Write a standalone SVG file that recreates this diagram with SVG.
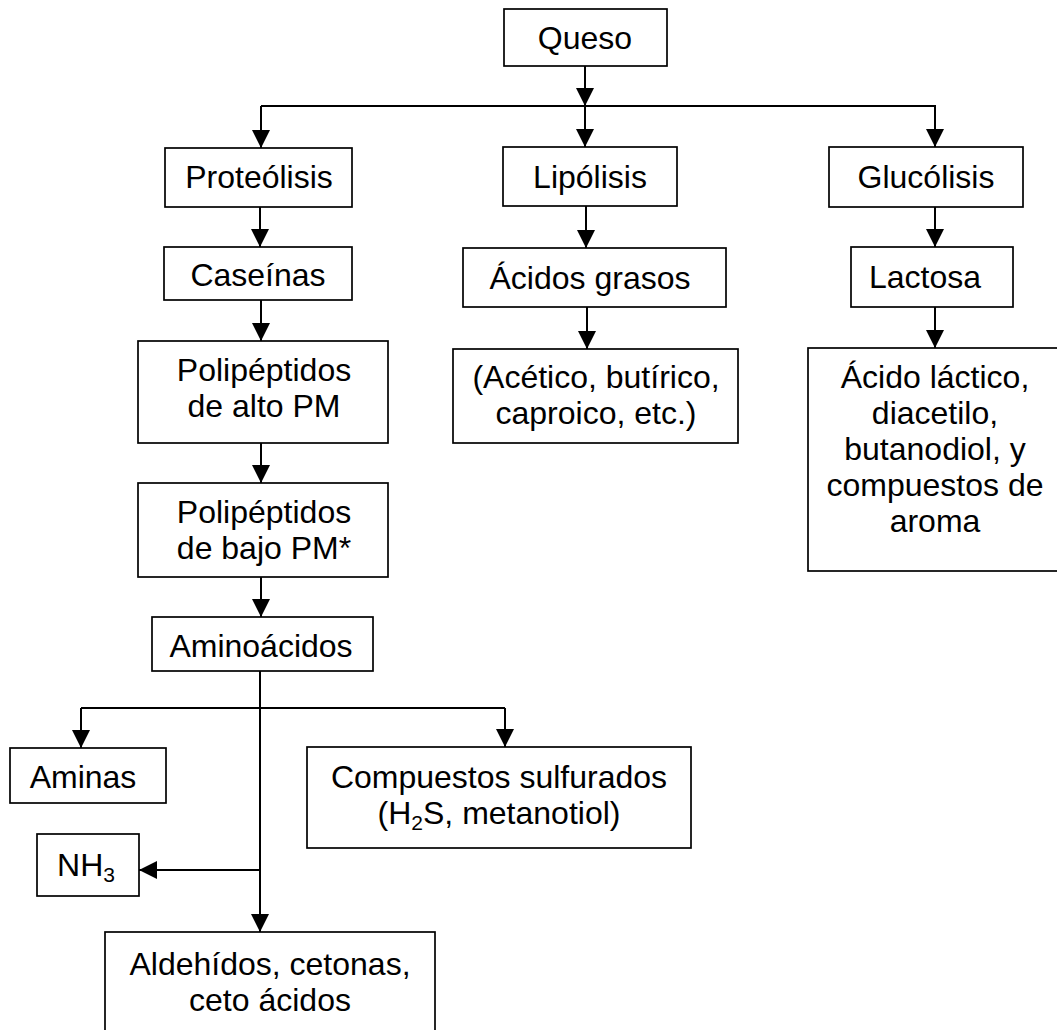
<svg xmlns="http://www.w3.org/2000/svg" width="1057" height="1030" viewBox="0 0 1057 1030">
  <style>
    .box { fill: #ffffff; stroke: #000000; stroke-width: 1.7; }
    .lbl { font-family: "Liberation Sans", Arial, sans-serif; font-size: 32px; fill: #000000; text-anchor: middle; }
    .sub { font-size: 21px; }
    .wire { fill: none; stroke: #000000; stroke-width: 2; }
  </style>
  <defs>
    <marker id="head" markerUnits="userSpaceOnUse" markerWidth="18" markerHeight="18" viewBox="0 0 16 16" refX="16" refY="8" orient="auto">
      <path d="M0,0 L16,8 L0,16 Z" fill="#000000"/>
    </marker>
  </defs>
  <rect width="1057" height="1030" fill="#ffffff"/>

  <!-- connectors -->
  <g id="connectors">
    <line class="wire" x1="585" y1="66" x2="585" y2="106" marker-end="url(#head)"/>
    <line class="wire" x1="261" y1="106" x2="936" y2="106"/>
    <line class="wire" x1="261" y1="106" x2="261" y2="148" marker-end="url(#head)"/>
    <line class="wire" x1="585" y1="106" x2="585" y2="147" marker-end="url(#head)"/>
    <line class="wire" x1="935" y1="106" x2="935" y2="147" marker-end="url(#head)"/>

    <line class="wire" x1="260" y1="207" x2="260" y2="247" marker-end="url(#head)"/>
    <line class="wire" x1="261" y1="300" x2="261" y2="341" marker-end="url(#head)"/>
    <line class="wire" x1="261" y1="443" x2="261" y2="483" marker-end="url(#head)"/>
    <line class="wire" x1="261" y1="577" x2="261" y2="617" marker-end="url(#head)"/>

    <line class="wire" x1="586" y1="206" x2="586" y2="248" marker-end="url(#head)"/>
    <line class="wire" x1="587" y1="307" x2="587" y2="349" marker-end="url(#head)"/>

    <line class="wire" x1="935" y1="207" x2="935" y2="247" marker-end="url(#head)"/>
    <line class="wire" x1="935" y1="307" x2="935" y2="348" marker-end="url(#head)"/>

    <line class="wire" x1="260" y1="671" x2="260" y2="932" marker-end="url(#head)"/>
    <line class="wire" x1="81" y1="708" x2="505" y2="708"/>
    <line class="wire" x1="81" y1="708" x2="81" y2="748" marker-end="url(#head)"/>
    <line class="wire" x1="505" y1="708" x2="505" y2="747" marker-end="url(#head)"/>
    <line class="wire" x1="260" y1="870" x2="139" y2="870" marker-end="url(#head)"/>
  </g>

  <!-- nodes -->
  <g id="queso">
    <rect class="box" x="504" y="9" width="163" height="57"/>
    <text class="lbl" x="585" y="49">Queso</text>
  </g>

  <g id="proteolisis">
    <rect class="box" x="165" y="148" width="187" height="59"/>
    <text class="lbl" x="259" y="188">Proteólisis</text>
  </g>
  <g id="caseinas">
    <rect class="box" x="164" y="247" width="188" height="53"/>
    <text class="lbl" x="258" y="286">Caseínas</text>
  </g>
  <g id="polipeptidos-alto">
    <rect class="box" x="138" y="341" width="250" height="102"/>
    <text class="lbl" x="264" y="381">Polipéptidos</text>
    <text class="lbl" x="264" y="417">de alto PM</text>
  </g>
  <g id="polipeptidos-bajo">
    <rect class="box" x="138" y="483" width="250" height="94"/>
    <text class="lbl" x="264" y="523">Polipéptidos</text>
    <text class="lbl" x="264" y="559">de bajo PM*</text>
  </g>
  <g id="aminoacidos">
    <rect class="box" x="152" y="617" width="221" height="54"/>
    <text class="lbl" x="261" y="657">Aminoácidos</text>
  </g>

  <g id="lipolisis">
    <rect class="box" x="503" y="147" width="174" height="59"/>
    <text class="lbl" x="590" y="188">Lipólisis</text>
  </g>
  <g id="acidos-grasos">
    <rect class="box" x="463" y="248" width="263" height="59"/>
    <text class="lbl" x="590" y="289">Ácidos grasos</text>
  </g>
  <g id="acidos-lista">
    <rect class="box" x="453" y="349" width="285" height="94"/>
    <text class="lbl" x="596" y="388">(Acético, butírico,</text>
    <text class="lbl" x="596" y="424">caproico, etc.)</text>
  </g>

  <g id="glucolisis">
    <rect class="box" x="829" y="147" width="194" height="60"/>
    <text class="lbl" x="926" y="188">Glucólisis</text>
  </g>
  <g id="lactosa">
    <rect class="box" x="851" y="247" width="162" height="60"/>
    <text class="lbl" x="925" y="288">Lactosa</text>
  </g>
  <g id="acido-lactico">
    <rect class="box" x="808" y="348" width="260" height="223"/>
    <text class="lbl" x="935" y="388">Ácido láctico,</text>
    <text class="lbl" x="935" y="424">diacetilo,</text>
    <text class="lbl" x="935" y="460">butanodiol, y</text>
    <text class="lbl" x="935" y="496">compuestos de</text>
    <text class="lbl" x="935" y="532">aroma</text>
  </g>

  <g id="aminas">
    <rect class="box" x="10" y="748" width="156" height="55"/>
    <text class="lbl" x="83" y="788">Aminas</text>
  </g>
  <g id="compuestos-sulfurados">
    <rect class="box" x="307" y="747" width="384" height="101"/>
    <text class="lbl" x="499" y="788">Compuestos sulfurados</text>
    <text class="lbl" x="499" y="824">(H<tspan class="sub" dy="6">2</tspan><tspan dy="-6">S, metanotiol)</tspan></text>
  </g>
  <g id="nh3">
    <rect class="box" x="37" y="834" width="102" height="62"/>
    <text class="lbl" x="86" y="876">NH<tspan class="sub" dy="6">3</tspan></text>
  </g>
  <g id="aldehidos">
    <rect class="box" x="105" y="932" width="330" height="110"/>
    <text class="lbl" x="270" y="975">Aldehídos, cetonas,</text>
    <text class="lbl" x="270" y="1011">ceto ácidos</text>
  </g>
</svg>
